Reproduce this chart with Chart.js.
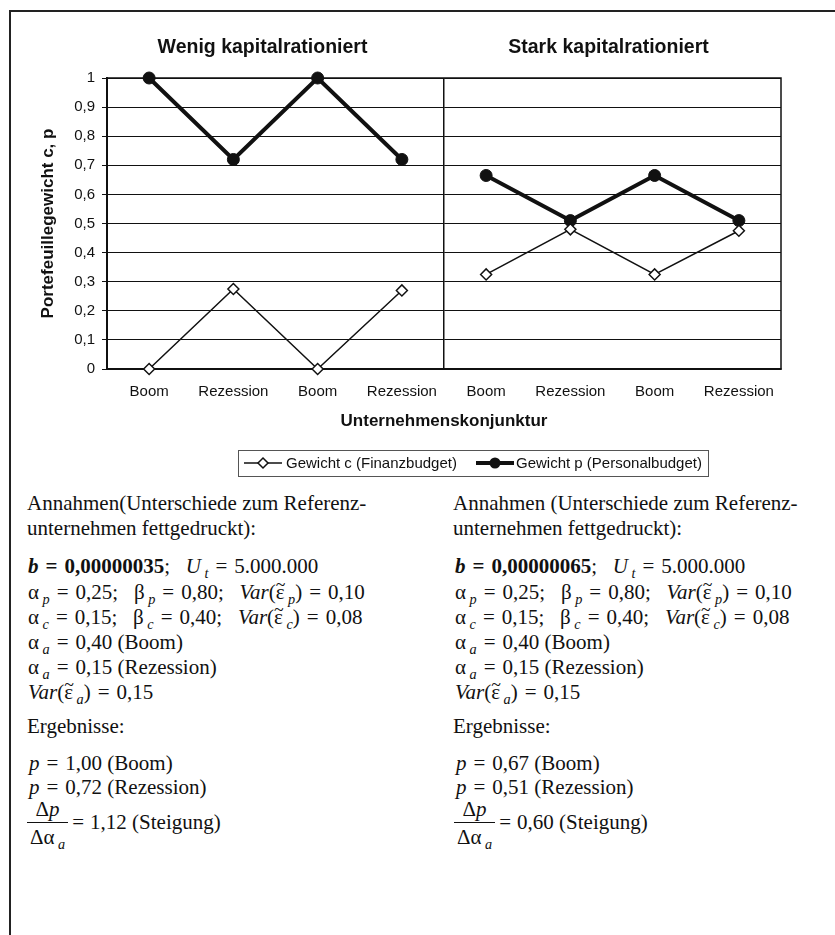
<!DOCTYPE html>
<html>
<head>
<meta charset="utf-8">
<script src="https://cdn.jsdelivr.net/npm/chart.js@4.4.1/dist/chart.umd.min.js"></script>
<style>
  html, body { margin: 0; padding: 0; background: #fff; }
  body { width: 835px; height: 935px; position: relative; overflow: hidden; }
  #frame { position: absolute; left: 9px; top: 10px; width: 900px; height: 940px;
           border-top: 2px solid #222; border-left: 2px solid #222; }
  #chartWrap { position: absolute; left: 0; top: 0; width: 835px; height: 485px; }
  .t { position: absolute; font-family: "Liberation Serif", "Times New Roman", serif; font-size: 21px;
       line-height: 24px; color: #111; white-space: nowrap; }
  .i { font-style: italic; }
  .b { font-weight: bold; }
  .eq { margin: 0 7px; }
  .sub { font-size: 68%; font-style: italic; position: relative; top: 0.35em; margin-left: 0.25em; }
  .eps { position: relative; display: inline-block; }
  .eps .tl { position: absolute; left: 0; right: 0; top: -3px; line-height: 1; font-size: 85%; text-align: center; font-style: normal; }
  .frac { display: inline-block; vertical-align: middle; text-align: center; margin-right: 4px; }
  .frac .num { display: block; border-bottom: 1.3px solid #111; padding: 0 3px 2px 3px; line-height: 22px; }
  .frac .den { display: block; line-height: 24px; padding: 2px 3px 0 3px; }
</style>
</head>
<body>
<div id="frame"></div>
<div id="chartWrap"><canvas id="c" width="835" height="485"></canvas></div>

<!-- left notes -->
<div class="t" style="left:27px; top:491px;">Annahmen(Unterschiede zum Referenz-</div>
<div class="t" style="left:27px; top:516px;">unternehmen fettgedruckt):</div>
<div class="t" style="left:28px; top:554px;"><span class="b i">b</span><span class="eq b">=</span><span class="b">0,00000035</span>;&nbsp;&nbsp; <span class="i">U</span><span class="sub">t</span><span class="eq">=</span>5.000.000</div>
<div class="t" style="left:28px; top:580px;">α<span class="sub">p</span><span class="eq">=</span>0,25;&nbsp;&nbsp; β<span class="sub">p</span><span class="eq">=</span>0,80;&nbsp;&nbsp; <span class="i">Var</span>(<span class="eps">ε<span class="tl">~</span></span><span class="sub">p</span>)<span class="eq">=</span>0,10</div>
<div class="t" style="left:28px; top:605px;">α<span class="sub">c</span><span class="eq">=</span>0,15;&nbsp;&nbsp; β<span class="sub">c</span><span class="eq">=</span>0,40;&nbsp;&nbsp; <span class="i">Var</span>(<span class="eps">ε<span class="tl">~</span></span><span class="sub">c</span>)<span class="eq">=</span>0,08</div>
<div class="t" style="left:28px; top:630px;">α<span class="sub">a</span><span class="eq">=</span>0,40 (Boom)</div>
<div class="t" style="left:28px; top:655px;">α<span class="sub">a</span><span class="eq">=</span>0,15 (Rezession)</div>
<div class="t" style="left:28px; top:680px;"><span class="i">Var</span>(<span class="eps">ε<span class="tl">~</span></span><span class="sub">a</span>)<span class="eq">=</span>0,15</div>
<div class="t" style="left:27px; top:714px;">Ergebnisse:</div>
<div class="t" style="left:29px; top:751px;"><span class="i">p</span><span class="eq">=</span>1,00 (Boom)</div>
<div class="t" style="left:29px; top:775px;"><span class="i">p</span><span class="eq">=</span>0,72 (Rezession)</div>
<div class="t" style="left:27px; top:798px;"><span class="frac"><span class="num">Δ<span class="i">p</span></span><span class="den">Δα<span class="sub">a</span></span></span>=<span style="margin-left:6px">1,12 (Steigung)</span></div>

<!-- right notes -->
<div class="t" style="left:453px; top:491px;">Annahmen (Unterschiede zum Referenz-</div>
<div class="t" style="left:453px; top:516px;">unternehmen fettgedruckt):</div>
<div class="t" style="left:455px; top:554px;"><span class="b i">b</span><span class="eq b">=</span><span class="b">0,00000065</span>;&nbsp;&nbsp; <span class="i">U</span><span class="sub">t</span><span class="eq">=</span>5.000.000</div>
<div class="t" style="left:455px; top:580px;">α<span class="sub">p</span><span class="eq">=</span>0,25;&nbsp;&nbsp; β<span class="sub">p</span><span class="eq">=</span>0,80;&nbsp;&nbsp; <span class="i">Var</span>(<span class="eps">ε<span class="tl">~</span></span><span class="sub">p</span>)<span class="eq">=</span>0,10</div>
<div class="t" style="left:455px; top:605px;">α<span class="sub">c</span><span class="eq">=</span>0,15;&nbsp;&nbsp; β<span class="sub">c</span><span class="eq">=</span>0,40;&nbsp;&nbsp; <span class="i">Var</span>(<span class="eps">ε<span class="tl">~</span></span><span class="sub">c</span>)<span class="eq">=</span>0,08</div>
<div class="t" style="left:455px; top:630px;">α<span class="sub">a</span><span class="eq">=</span>0,40 (Boom)</div>
<div class="t" style="left:455px; top:655px;">α<span class="sub">a</span><span class="eq">=</span>0,15 (Rezession)</div>
<div class="t" style="left:455px; top:680px;"><span class="i">Var</span>(<span class="eps">ε<span class="tl">~</span></span><span class="sub">a</span>)<span class="eq">=</span>0,15</div>
<div class="t" style="left:453px; top:714px;">Ergebnisse:</div>
<div class="t" style="left:456px; top:751px;"><span class="i">p</span><span class="eq">=</span>0,67 (Boom)</div>
<div class="t" style="left:456px; top:775px;"><span class="i">p</span><span class="eq">=</span>0,51 (Rezession)</div>
<div class="t" style="left:454px; top:798px;"><span class="frac"><span class="num">Δ<span class="i">p</span></span><span class="den">Δα<span class="sub">a</span></span></span>=<span style="margin-left:6px">0,60 (Steigung)</span></div>

<script>
// ---- data ----
const categories = ['Boom', 'Rezession', 'Boom', 'Rezession', 'Boom', 'Rezession', 'Boom', 'Rezession'];
const panelTitles = ['Wenig kapitalrationiert', 'Stark kapitalrationiert'];
const weightC_wenig = [0, 0.275, 0, 0.27];
const weightC_stark = [0.325, 0.48, 0.325, 0.475];
const weightP_wenig = [1, 0.72, 1, 0.72];
const weightP_stark = [0.665, 0.51, 0.665, 0.51];
const yTickLabels = ['0', '0,1', '0,2', '0,3', '0,4', '0,5', '0,6', '0,7', '0,8', '0,9', '1'];
const seriesNames = ['Gewicht c (Finanzbudget)', 'Gewicht p (Personalbudget)'];
const yAxisTitle = 'Portefeuillegewicht c, p';
const xAxisTitle = 'Unternehmenskonjunktur';

const NONE = [null, null, null, null];
const INK = '#111';
const SANS = '"Liberation Sans", Arial, Helvetica, sans-serif';

const cStyle = { borderColor: INK, borderWidth: 1.5, pointStyle: 'rectRot', pointRadius: 5.5,
  pointBackgroundColor: '#fff', pointBorderColor: INK, pointBorderWidth: 1.5, clip: false, spanGaps: false };
const pStyle = { borderColor: INK, borderWidth: 4, pointStyle: 'circle', pointRadius: 6,
  pointBackgroundColor: INK, pointBorderColor: INK, pointBorderWidth: 1, clip: false, spanGaps: false };

const datasets = [
  Object.assign({ label: seriesNames[0], data: weightC_wenig.concat(NONE) }, cStyle),
  Object.assign({ label: seriesNames[0], data: NONE.concat(weightC_stark) }, cStyle),
  Object.assign({ label: seriesNames[1], data: weightP_wenig.concat(NONE) }, pStyle),
  Object.assign({ label: seriesNames[1], data: NONE.concat(weightP_stark) }, pStyle)
];

const panelPlugin = {
  id: 'panels',
  beforeDatasetsDraw(chart) {
    const { ctx, chartArea: a } = chart;
    ctx.save();
    ctx.strokeStyle = INK;
    ctx.lineWidth = 1.5;
    ctx.strokeRect(a.left, a.top, a.right - a.left, a.bottom - a.top);
    ctx.restore();
  },
  afterDraw(chart) {
    const { ctx, chartArea: a, scales } = chart;
    ctx.save();
    // panel titles
    ctx.fillStyle = INK;
    ctx.font = 'bold 19.5px ' + SANS;
    ctx.textAlign = 'center';
    ctx.textBaseline = 'middle';
    const xs = scales.x;
    const mid = (xs.getPixelForValue(3) + xs.getPixelForValue(4)) / 2;
    ctx.fillText(panelTitles[0], (a.left + mid) / 2 - 13, 48);
    ctx.fillText(panelTitles[1], (mid + a.right) / 2 - 4, 48);

    // legend
    const lx0 = 238, lx1 = 708, ly0 = 450, ly1 = 476, ly = 463;
    ctx.strokeStyle = '#555';
    ctx.lineWidth = 1;
    ctx.strokeRect(lx0 + 0.5, ly0 + 0.5, lx1 - lx0, ly1 - ly0);
    ctx.font = '15px ' + SANS;
    ctx.textAlign = 'left';
    ctx.fillStyle = INK;
    // c symbol
    ctx.strokeStyle = INK;
    ctx.lineWidth = 1.5;
    ctx.beginPath(); ctx.moveTo(244, ly); ctx.lineTo(282, ly); ctx.stroke();
    ctx.beginPath();
    ctx.moveTo(263, ly - 5); ctx.lineTo(268, ly); ctx.lineTo(263, ly + 5); ctx.lineTo(258, ly); ctx.closePath();
    ctx.fillStyle = '#fff'; ctx.fill(); ctx.stroke();
    ctx.fillStyle = INK;
    ctx.fillText(seriesNames[0], 286, ly + 1);
    // p symbol
    const px0 = 476, px1 = 514;
    ctx.lineWidth = 4;
    ctx.beginPath(); ctx.moveTo(px0, ly); ctx.lineTo(px1, ly); ctx.stroke();
    ctx.beginPath(); ctx.arc((px0 + px1) / 2, ly, 5.5, 0, Math.PI * 2); ctx.fill();
    ctx.fillText(seriesNames[1], 516, ly + 1);
    ctx.restore();
  }
};

new Chart(document.getElementById('c'), {
  type: 'line',
  data: { labels: categories, datasets },
  plugins: [panelPlugin],
  options: {
    responsive: false,
    animation: false,
    layout: { padding: { top: 78, right: 54, left: 0, bottom: 0 } },
    plugins: { legend: { display: false }, tooltip: { enabled: false } },
    elements: { line: { tension: 0 } },
    scales: {
      x: {
        type: 'category',
        offset: true,
        grid: {
          offset: true,
          drawTicks: false,
          color: (c) => (c.index === 4 ? INK : 'rgba(0,0,0,0)'),
          lineWidth: 1.5
        },
        border: { color: INK, width: 2 },
        ticks: { color: INK, padding: 14, maxRotation: 0, autoSkip: false, font: { family: SANS, size: 15 } },
        title: { display: true, text: xAxisTitle, color: INK, font: { family: SANS, size: 17, weight: 'bold' }, padding: { bottom: 53 } },
        afterFit: (s) => { s.height = 116; }
      },
      y: {
        min: 0, max: 1,
        ticks: { stepSize: 0.1, color: INK, padding: 7, font: { family: SANS, size: 15 },
                 callback: (v, i) => yTickLabels[i] },
        grid: { color: INK, lineWidth: 1, tickLength: 5 },
        border: { color: INK, width: 2 },
        title: { display: true, text: yAxisTitle, color: INK, font: { family: SANS, size: 17, weight: 'bold' }, padding: { top: 38 } },
        afterFit: (s) => { s.width = 107; }
      }
    }
  }
});
</script>
</body>
</html>
